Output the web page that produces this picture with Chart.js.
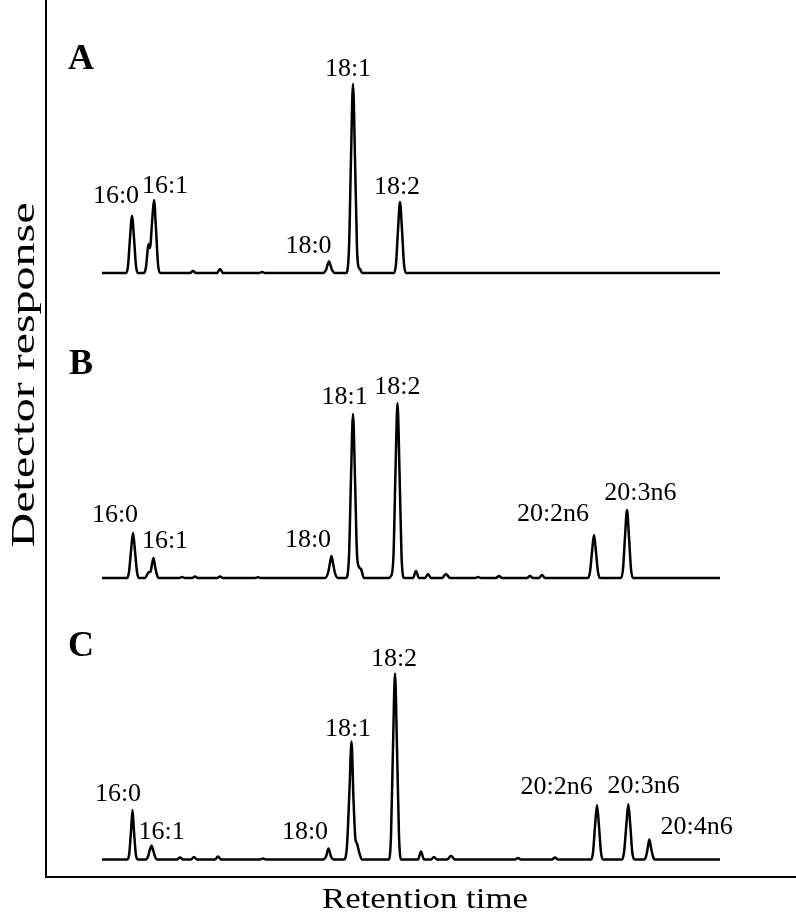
<!DOCTYPE html>
<html>
<head>
<meta charset="utf-8">
<script src="https://cdn.jsdelivr.net/npm/chart.js@4.4.1/dist/chart.umd.min.js"></script>
<style>
  html, body { margin: 0; padding: 0; background: #fff; }
  #chart { display: block; }
</style>
</head>
<body>
<canvas id="chart" width="796" height="912"></canvas>
<script>
// Retention time (arbitrary units) and detector response
const timeA = [102, 126, 128, 130, 132, 134, 136, 138, 144, 146, 148, 149, 150, 152, 154, 156, 158, 160,
    190, 193, 196, 217, 220, 223, 259, 262, 265, 323, 326, 329, 332, 335,
    346, 349, 351, 353, 355, 357, 358.5, 360, 362, 394, 396, 398, 400, 402, 404, 406, 720];
const respA = [0, 0, 7, 35, 57, 35, 7, 0, 0, 6, 26, 29, 25, 50, 73, 44, 9, 0,
    0, 2, 0, 0, 4, 0, 0, 1, 0, 0, 3, 11.5, 3, 0,
    0, 25, 115, 189, 115, 25, 6, 4, 0, 0, 9, 43, 71, 43, 9, 0, 0];

const timeB = [102, 127, 129, 131, 133, 135, 137, 139, 145, 147, 149, 150.5, 152, 153.5, 155, 157, 159,
    179, 182, 185, 192, 195, 198, 217, 220, 223, 255, 258, 261,
    325, 328, 330, 331.5, 333, 335, 338, 346, 349, 351, 353, 355, 357, 359, 361, 364,
    388, 391, 393.5, 395.5, 397.5, 399.5, 401.5, 404,
    413, 416, 419, 425, 428, 431, 442, 446, 450, 475, 478, 481, 496, 499, 502, 527, 530, 533, 539, 542, 545,
    588, 590, 592, 594, 596, 598, 600, 621, 623, 625, 627, 629, 631, 633, 720];
const respB = [0, 0, 6, 27, 45, 27, 6, 0, 0, 3, 6, 6, 14, 20, 12, 3, 0,
    0, 1, 0, 0, 1.5, 0, 0, 1.5, 0, 0, 0.7, 0,
    0, 5, 15, 22, 15, 5, 0, 0, 22, 100, 164, 100, 24, 11, 9, 0,
    0, 2, 23, 107, 175, 107, 23, 0,
    0, 7, 0, 0, 4, 0, 0, 4, 0, 0, 1, 0, 0, 2, 0, 0, 2, 0, 0, 3, 0,
    0, 6, 26, 43, 26, 6, 0, 0, 9, 41, 68, 41, 9, 0, 0];

const timeC = [102, 127, 129, 131, 132.5, 134, 136, 138, 146, 148, 150, 151.5, 153, 155, 157,
    177, 180, 183, 191, 194, 197, 215, 218, 221, 260, 263, 266,
    323, 326, 328.5, 331, 334, 344, 347, 349.5, 351.5, 353.5, 355.5, 357, 359, 362,
    389, 391, 393, 395, 397, 399, 401,
    418, 421, 424, 431, 434, 437, 447, 451, 455, 515, 518, 521, 552, 555, 558,
    591, 593, 595, 597, 599, 601, 603, 622, 624, 626.3, 628.3, 630.3, 632.3, 634.5,
    644, 646, 647.8, 649.3, 651, 653, 655, 720];
const respC = [0, 0, 4, 28, 49.5, 28, 4, 0, 0, 3, 10, 14, 10, 3, 0,
    0, 2, 0, 0, 2.5, 0, 0, 3, 0, 0, 1, 0,
    0, 3, 11, 3, 0, 0, 14, 70, 118, 60, 20, 16, 8, 0,
    0, 24, 112, 186, 112, 24, 0,
    0, 8, 0, 0, 2.5, 0, 0, 3.5, 0, 0, 1.5, 0, 0, 2, 0,
    0, 7, 33, 54.5, 33, 7, 0, 0, 7, 34, 55.5, 34, 7, 0,
    0, 3, 12, 20, 12, 3, 0, 0];

// Peak names and where they sit (time, response above the trace baseline)
const labelsA = ['16:0', '16:1', '18:0', '18:1', '18:2'];
const labelTimeA = [116, 165, 308.5, 348, 397];
const labelRespA = [77, 87, 27, 203.5, 85.5];

const labelsB = ['16:0', '16:1', '18:0', '18:1', '18:2', '20:2n6', '20:3n6'];
const labelTimeB = [115, 165, 308, 344.7, 397.3, 553, 640.3];
const labelRespB = [62.5, 37, 38, 180.5, 190.5, 64, 85];

const labelsC = ['16:0', '16:1', '18:0', '18:1', '18:2', '20:2n6', '20:3n6', '20:4n6'];
const labelTimeC = [118, 161.7, 305, 348, 394, 556.7, 643.7, 696.7];
const labelRespC = [65.5, 27.8, 27, 130.5, 200.5, 72.8, 73.5, 32.8];

const panelNames = ['A', 'B', 'C'];

// vertical stacking of the three traces
const traceOffsets = [604, 299, 17.5];
const panelLetterTime = 81;
const panelLetterResp = 213;

const traces = [
    { time: timeA, resp: respA, labels: labelsA, lt: labelTimeA, lr: labelRespA },
    { time: timeB, resp: respB, labels: labelsB, lt: labelTimeB, lr: labelRespB },
    { time: timeC, resp: respC, labels: labelsC, lt: labelTimeC, lr: labelRespC }
];

const serif = '"Liberation Serif", "Times New Roman", serif';

// peak names + panel letters
const peakLabelPlugin = {
    id: 'peakLabels',
    afterDatasetsDraw(chart) {
        const ctx = chart.ctx;
        const xs = chart.scales.x, ys = chart.scales.y;
        ctx.save();
        ctx.fillStyle = '#000';
        ctx.textAlign = 'center';
        ctx.textBaseline = 'middle';
        traces.forEach((t, i) => {
            ctx.font = '26px ' + serif;
            t.labels.forEach((txt, j) => {
                ctx.fillText(txt, xs.getPixelForValue(t.lt[j]), ys.getPixelForValue(t.lr[j] + traceOffsets[i]));
            });
            ctx.font = 'bold 36px ' + serif;
            ctx.fillText(panelNames[i], xs.getPixelForValue(panelLetterTime),
                ys.getPixelForValue(panelLetterResp + traceOffsets[i]));
        });
        ctx.restore();
    }
};

// axis titles, stretched along the text like the original figure
const axisTitlePlugin = {
    id: 'axisTitles',
    afterDraw(chart) {
        const ctx = chart.ctx;
        const area = chart.chartArea;
        ctx.save();
        ctx.fillStyle = '#000';
        ctx.textAlign = 'center';
        ctx.textBaseline = 'alphabetic';

        ctx.font = '30px ' + serif;
        let w = ctx.measureText('Retention time').width;
        ctx.save();
        ctx.translate(425, 908);
        ctx.scale(206 / w, 1);
        ctx.fillText('Retention time', 0, 0);
        ctx.restore();

        ctx.font = '33px ' + serif;
        w = ctx.measureText('Detector response').width;
        ctx.save();
        ctx.translate(area.left - 12, 375);
        ctx.rotate(-Math.PI / 2);
        ctx.scale(345 / w, 1);
        ctx.fillText('Detector response', 0, 0);
        ctx.restore();
        ctx.restore();
    }
};

const axisStyle = {
    grid: { display: false, drawTicks: false },
    ticks: { display: false },
    border: { display: true, color: '#000', width: 2 }
};

const datasets = traces.map((t, i) => ({
    label: panelNames[i],
    data: t.time.map((x, j) => ({ x: x, y: t.resp[j] + traceOffsets[i] })),
    borderColor: '#000',
    borderWidth: 2.5,
    pointRadius: 0,
    fill: false,
    cubicInterpolationMode: 'monotone'
}));

new Chart(document.getElementById('chart'), {
    type: 'line',
    data: { datasets: datasets },
    options: {
        responsive: false,
        animation: false,
        layout: { padding: { left: 46, right: 0, top: 0, bottom: 35 } },
        plugins: { legend: { display: false }, tooltip: { enabled: false } },
        scales: {
            x: Object.assign({ type: 'linear', min: 46, max: 796 }, axisStyle),
            y: Object.assign({ type: 'linear', min: 0, max: 877 }, axisStyle)
        }
    },
    plugins: [peakLabelPlugin, axisTitlePlugin]
});
</script>
</body>
</html>
